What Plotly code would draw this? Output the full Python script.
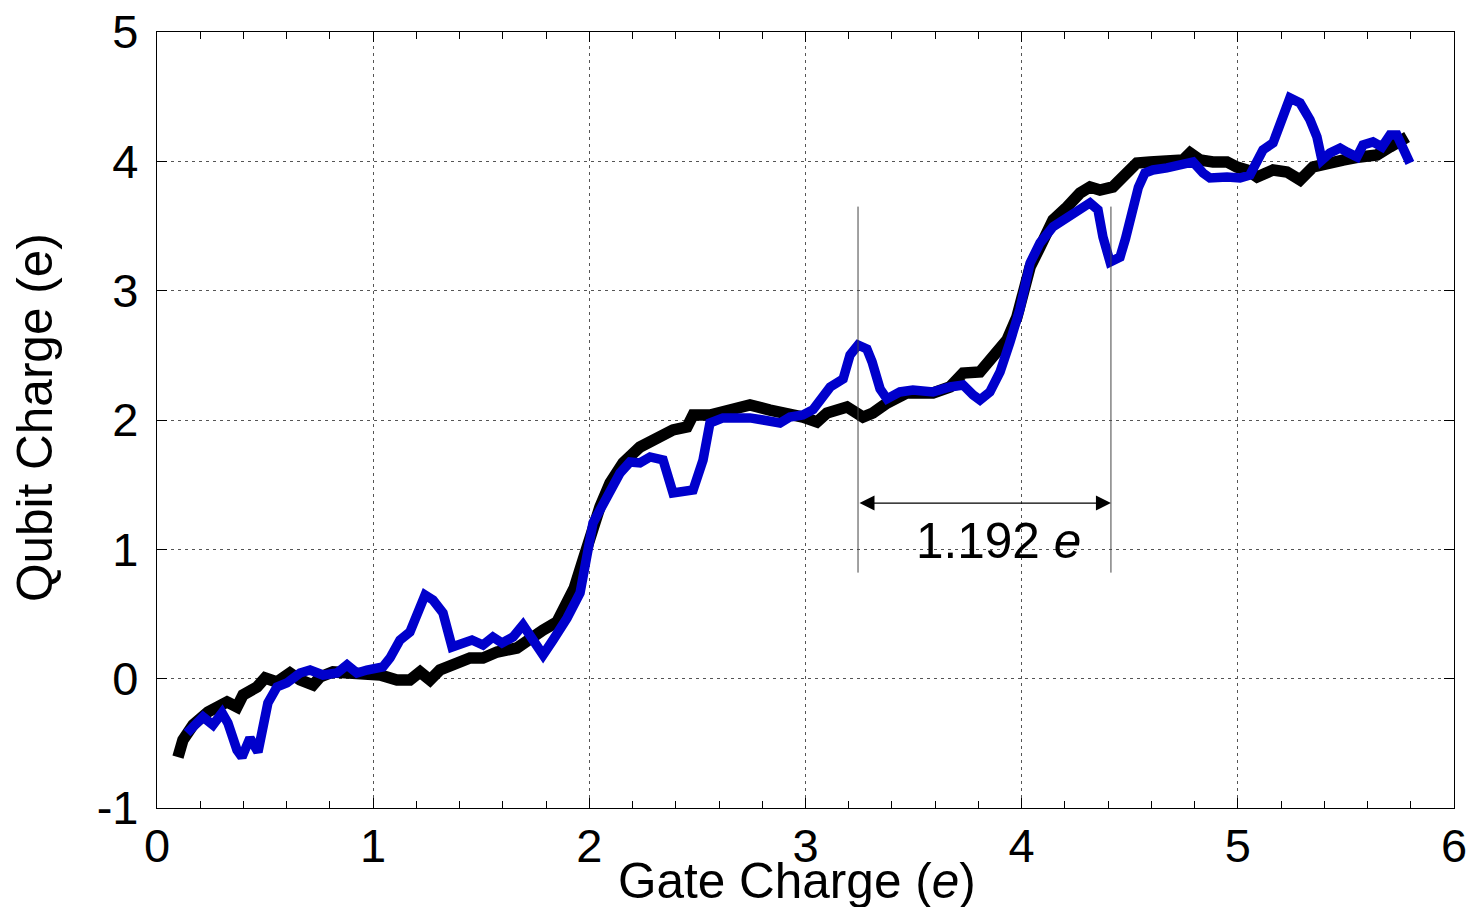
import plotly.graph_objects as go

# ---- data ----
black_x = [0.097, 0.120, 0.167, 0.236, 0.324, 0.370, 0.398, 0.463, 0.500, 0.555, 0.615, 0.662,
           0.722, 0.754, 0.814, 0.893, 0.971, 1.032, 1.110, 1.170, 1.217, 1.263, 1.309, 1.388,
           1.448, 1.508, 1.573, 1.665, 1.726, 1.786, 1.850, 1.897, 1.930, 1.971, 2.003, 2.049,
           2.096, 2.156, 2.234, 2.313, 2.387, 2.452, 2.480, 2.558, 2.651, 2.743, 2.836, 2.928,
           2.988, 3.053, 3.099, 3.192, 3.266, 3.312, 3.377, 3.469, 3.590, 3.668, 3.729, 3.807,
           3.867, 3.932, 3.978, 4.006, 4.039, 4.085, 4.145, 4.210, 4.270, 4.316, 4.362, 4.422,
           4.455, 4.487, 4.533, 4.594, 4.672, 4.746, 4.779, 4.825, 4.885, 4.950, 4.996, 5.042,
           5.089, 5.163, 5.227, 5.288, 5.348, 5.426, 5.486, 5.565, 5.644, 5.704, 5.783]
black_y = [-0.606, -0.474, -0.358, -0.258, -0.180, -0.219, -0.126, -0.064, 0.005, -0.026, 0.044, -0.010,
           -0.049, 0.013, 0.052, 0.044, 0.028, 0.028, -0.010, -0.010, 0.052, -0.010, 0.067, 0.129,
           0.160, 0.160, 0.206, 0.237, 0.314, 0.376, 0.438, 0.570, 0.700, 0.918, 1.095, 1.327,
           1.513, 1.668, 1.791, 1.869, 1.923, 1.946, 2.039, 2.039, 2.077, 2.116, 2.077, 2.054,
           2.023, 1.985, 2.054, 2.101, 2.023, 2.054, 2.131, 2.209, 2.209, 2.255, 2.363, 2.371,
           2.487, 2.619, 2.796, 3.005, 3.183, 3.338, 3.546, 3.647, 3.755, 3.802, 3.778, 3.802,
           3.856, 3.933, 3.987, 3.995, 4.010, 4.010, 4.065, 4.010, 3.995, 3.995, 3.956, 3.933,
           3.879, 3.933, 3.918, 3.856, 3.956, 3.995, 4.010, 4.034, 4.049, 4.111, 4.188]

blue_x = [0.139, 0.185, 0.213, 0.259, 0.301, 0.328, 0.370, 0.393, 0.430, 0.467, 0.513, 0.555,
          0.601, 0.662, 0.708, 0.768, 0.833, 0.879, 0.925, 0.971, 1.045, 1.078, 1.124, 1.170,
          1.203, 1.240, 1.277, 1.323, 1.365, 1.411, 1.457, 1.508, 1.554, 1.596, 1.647, 1.693,
          1.735, 1.786, 1.832, 1.897, 1.957, 1.980, 2.017, 2.082, 2.142, 2.188, 2.234, 2.281,
          2.341, 2.387, 2.433, 2.480, 2.526, 2.558, 2.618, 2.683, 2.743, 2.803, 2.882, 2.928,
          2.988, 3.035, 3.067, 3.114, 3.174, 3.206, 3.243, 3.284, 3.308, 3.345, 3.377, 3.437,
          3.497, 3.590, 3.668, 3.729, 3.775, 3.807, 3.853, 3.900, 3.946, 3.992, 4.039, 4.085,
          4.145, 4.210, 4.270, 4.316, 4.353, 4.376, 4.409, 4.455, 4.480, 4.510, 4.540, 4.570,
          4.607, 4.672, 4.746, 4.793, 4.839, 4.871, 4.950, 5.010, 5.056, 5.089, 5.116, 5.163,
          5.209, 5.241, 5.288, 5.334, 5.366, 5.389, 5.426, 5.473, 5.505, 5.551, 5.579, 5.625,
          5.667, 5.704, 5.736, 5.764, 5.796]
blue_y = [-0.420, -0.343, -0.296, -0.358, -0.265, -0.343, -0.552, -0.606, -0.459, -0.567, -0.188, -0.064,
          -0.033, 0.044, 0.067, 0.028, 0.044, 0.106, 0.044, 0.067, 0.090, 0.160, 0.299, 0.361,
          0.508, 0.647, 0.608, 0.508, 0.245, 0.276, 0.299, 0.260, 0.322, 0.276, 0.322, 0.415,
          0.299, 0.183, 0.299, 0.469, 0.662, 0.863, 1.204, 1.405, 1.590, 1.675, 1.668, 1.714,
          1.691, 1.436, 1.443, 1.459, 1.691, 1.977, 2.016, 2.023, 2.016, 2.000, 1.977, 2.023,
          2.039, 2.080, 2.163, 2.255, 2.317, 2.503, 2.580, 2.549, 2.449, 2.240, 2.163, 2.217,
          2.232, 2.217, 2.255, 2.271, 2.194, 2.155, 2.217, 2.372, 2.603, 2.858, 3.214, 3.369,
          3.494, 3.571, 3.641, 3.679, 3.625, 3.415, 3.222, 3.260, 3.400, 3.600, 3.800, 3.910,
          3.933, 3.949, 3.972, 3.995, 3.910, 3.871, 3.879, 3.871, 3.894, 3.987, 4.088, 4.142,
          4.374, 4.490, 4.451, 4.320, 4.188, 4.010, 4.065, 4.103, 4.072, 4.034, 4.126, 4.150,
          4.111, 4.204, 4.204, 4.111, 3.987]

x_ticks = [0, 1, 2, 3, 4, 5, 6]
y_ticks = [-1, 0, 1, 2, 3, 4, 5]
y_tick_text = ["-1", "0", "1", "2", "3", "4", "5"]

marker_left = 3.243
marker_right = 4.413
marker_y_low = 0.82
marker_y_high = 3.65
arrow_y = 1.358
gap_label = "1.192 <i>e</i>"
label_x = 3.895
label_y = 1.065

FONT = "Liberation Sans, Arial, Helvetica, sans-serif"
FS = 47
FS_TEXT = 49.5

fig = go.Figure()
fig.add_trace(go.Scatter(x=black_x, y=black_y, mode="lines",
                         line=dict(color="#000000", width=11.5), showlegend=False))
fig.add_trace(go.Scatter(x=blue_x, y=blue_y, mode="lines",
                         line=dict(color="#0000cc", width=9.5), showlegend=False))

# vertical marker lines
for mx in (marker_left, marker_right):
    fig.add_trace(go.Scatter(x=[mx, mx], y=[marker_y_low, marker_y_high], mode="lines",
                             line=dict(color="#444444", width=1), showlegend=False))

# double-headed arrow
fig.add_annotation(x=marker_right, y=arrow_y, ax=marker_left, ay=arrow_y,
                   xref="x", yref="y", axref="x", ayref="y", text="",
                   showarrow=True, arrowhead=2, arrowside="end+start",
                   arrowsize=2.5, arrowwidth=1.2, arrowcolor="#000000")
fig.add_annotation(x=label_x, y=label_y, xref="x", yref="y", text=gap_label,
                   showarrow=False, font=dict(family=FONT, size=FS_TEXT, color="#000000"))

# axis titles
fig.add_annotation(x=0.4935, y=0, xref="paper", yref="paper", yanchor="middle",
                   yshift=-72, text="Gate Charge (<i>e</i>)", showarrow=False,
                   font=dict(family=FONT, size=FS_TEXT, color="#000000"))
fig.add_annotation(x=0, y=0.5026, xref="paper", yref="paper", xanchor="center",
                   xshift=-122, textangle=-90, text="Qubit Charge (e)", showarrow=False,
                   font=dict(family=FONT, size=FS_TEXT, color="#000000"))

axis_common = dict(showline=True, linecolor="#000000", linewidth=1.2, mirror="allticks",
                   showgrid=True, gridcolor="#555555", gridwidth=1, griddash="3px,4px",
                   zeroline=False, ticks="inside", ticklen=10, tickcolor="#000000",
                   automargin=False,
                   tickfont=dict(family=FONT, size=FS, color="#000000"))

fig.update_xaxes(range=[0, 6], tickvals=x_ticks, ticktext=[str(v) for v in x_ticks],
                 minor=dict(dtick=0.2, tick0=0, ticks="inside", ticklen=7, tickcolor="#000000",
                            showgrid=False),
                 ticklabelstandoff=-4,
                 **axis_common)
fig.update_yaxes(range=[-1, 5], tickvals=y_ticks, ticktext=y_tick_text,
                 ticklabelstandoff=8, **axis_common)

fig.update_layout(width=1472, height=907, margin=dict(l=157, r=18, t=32, b=99),
                  plot_bgcolor="#ffffff", paper_bgcolor="#ffffff", template="none")

fig.write_html("out.html")
